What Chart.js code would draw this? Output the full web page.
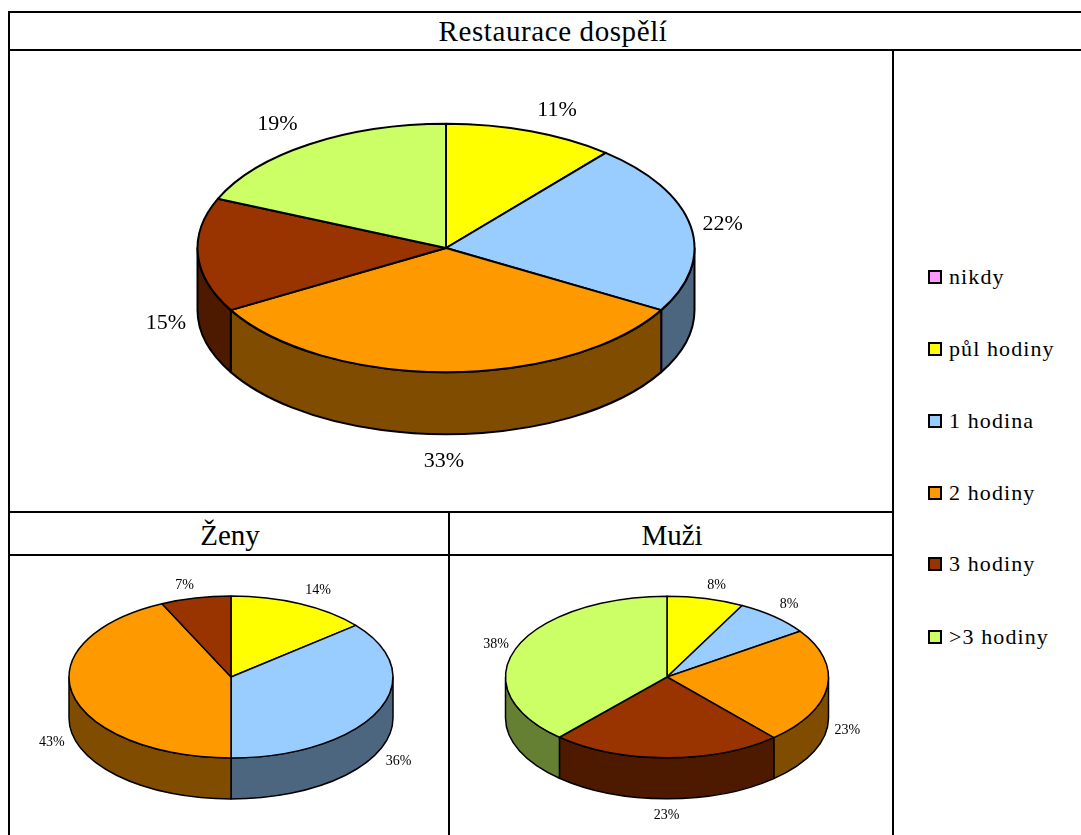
<!DOCTYPE html>
<html lang="cs">
<head>
<meta charset="utf-8">
<title>Restaurace dospělí</title>
<script src="https://cdn.jsdelivr.net/npm/chart.js@4"></script>
<style>
html,body{margin:0;padding:0;background:#fff;}
#page{position:relative;width:1081px;height:835px;overflow:hidden;font-family:"Liberation Serif",serif;color:#000;}
.h,.v{position:absolute;background:#000;}
.title{position:absolute;text-align:center;line-height:1;white-space:nowrap;}
canvas{position:absolute;pointer-events:none;}
.lg{position:absolute;left:928px;font-size:22px;line-height:24px;white-space:nowrap;}
.lg i{position:absolute;left:0;top:5px;width:10px;height:10px;border:2px solid #000;display:block;}
.lg span{position:absolute;left:21px;top:0;letter-spacing:1.1px;}
</style>
</head>
<body>
<div id="page">
  <div class="h" style="left:8px;top:11px;width:1073px;height:2px"></div>
  <div class="h" style="left:8px;top:49px;width:1073px;height:2px"></div>
  <div class="h" style="left:8px;top:511px;width:885px;height:2px"></div>
  <div class="h" style="left:8px;top:554px;width:885px;height:2px"></div>
  <div class="v" style="left:8px;top:11px;width:2px;height:824px"></div>
  <div class="v" style="left:448px;top:511px;width:2px;height:324px"></div>
  <div class="v" style="left:892px;top:49px;width:2px;height:786px"></div>
  <div class="title" style="left:10px;width:1086px;top:17px;font-size:29px;letter-spacing:.6px">Restaurace dospělí</div>
  <div class="title" style="left:10px;width:440px;top:521px;font-size:29px">Ženy</div>
  <div class="title" style="left:450px;width:444px;top:521px;font-size:29px">Muži</div>
</div>
<script>
const categories = ["nikdy", "půl hodiny", "1 hodina", "2 hodiny", "3 hodiny", ">3 hodiny"];
const colors     = ["#FF99FF", "#FFFF00", "#99CCFF", "#FF9900", "#993300", "#CCFF66"];
const sideColors = ["#804D80", "#808000", "#4D6680", "#804D00", "#4D1A00", "#668033"];

const restauraceValues = [0, 11.1, 22.2, 33.3, 14.8, 18.5];
const zenyValues       = [0, 14, 36, 43, 7, 0];
const muziValues       = [0, 7.7, 7.7, 23.1, 23.1, 38.4];

const legendRows = [277, 349, 421, 493, 564, 637];

const page = document.getElementById('page');
categories.forEach((c, i) => {
  const d = document.createElement('div');
  d.className = 'lg';
  d.style.top = (legendRows[i] - 12) + 'px';
  const sw = document.createElement('i');
  sw.style.background = colors[i];
  const t = document.createElement('span');
  t.textContent = c;
  d.append(sw, t);
  page.appendChild(d);
});

const pie3d = {
  id: 'pie3d',
  beforeDatasetsDraw(chart, args, o) {
    const ctx = chart.ctx;
    const ds = chart.data.datasets[0];
    const arcs = chart.getDatasetMeta(0).data;
    ctx.save();
    ctx.lineWidth = o.lineWidth;
    ctx.strokeStyle = '#000';
    ctx.lineJoin = 'round';
    // side walls
    arcs.forEach((a, i) => {
      if (!ds.data[i]) return;
      const s = Math.max(a.startAngle, 0), e = Math.min(a.endAngle, Math.PI);
      if (s >= e) return;
      const rx = a.outerRadius, ry = rx * o.squash;
      ctx.beginPath();
      ctx.ellipse(a.x, a.y, rx, ry, 0, s, e);
      ctx.lineTo(a.x + rx * Math.cos(e), a.y + ry * Math.sin(e) + o.depth);
      ctx.ellipse(a.x, a.y + o.depth, rx, ry, 0, e, s, true);
      ctx.closePath();
      ctx.fillStyle = sideColors[i];
      ctx.fill();
      ctx.stroke();
    });
    // top face
    arcs.forEach((a, i) => {
      if (!ds.data[i]) return;
      const rx = a.outerRadius, ry = rx * o.squash;
      ctx.beginPath();
      ctx.moveTo(a.x, a.y);
      ctx.ellipse(a.x, a.y, rx, ry, 0, a.startAngle, a.endAngle);
      ctx.closePath();
      ctx.fillStyle = colors[i];
      ctx.fill();
      ctx.stroke();
    });
    // percentage labels
    ctx.fillStyle = '#000';
    ctx.font = o.fontSize + 'px "Liberation Serif"';
    ctx.textAlign = 'center';
    ctx.textBaseline = 'middle';
    let n = 0;
    arcs.forEach((a, i) => {
      if (!ds.data[i]) return;
      const m = (a.startAngle + a.endAngle) / 2;
      const rx = a.outerRadius, ry = rx * o.squash;
      const front = Math.sin(m) > 0 ? o.depth : 0;
      const nudge = o.nudges[n++];
      ctx.fillText(Math.round(ds.data[i]) + '%',
        a.x + rx * Math.cos(m) + nudge[0],
        a.y + ry * Math.sin(m) + front + nudge[1]);
    });
    ctx.restore();
    return false;
  }
};

function makePie(values, cx, cy, radius, depth, size, lineWidth, fontSize, nudges) {
  const cv = document.createElement('canvas');
  cv.width = size; cv.height = size;
  cv.style.left = (cx - size / 2) + 'px';
  cv.style.top = (cy - size / 2) + 'px';
  page.appendChild(cv);
  new Chart(cv, {
    type: 'pie',
    data: { labels: categories, datasets: [{ data: values, backgroundColor: colors, borderWidth: 0 }] },
    options: {
      responsive: false,
      animation: false,
      layout: { padding: size / 2 - radius },
      plugins: {
        legend: { display: false },
        tooltip: { enabled: false },
        pie3d: { squash: 0.5, depth, lineWidth, fontSize, nudges }
      }
    },
    plugins: [pie3d]
  });
}

makePie(restauraceValues, 445.5, 247.5, 248.5, 62, 640, 2, 22,
  [[26, -21], [32, -2], [-2, 27], [-32, 6], [-32, -20]]);
makePie(zenyValues, 231, 677, 162, 41, 440, 1.5, 14,
  [[18, -13], [21, 9], [-21, 7], [-11, -13]]);
makePie(muziValues, 667, 677, 161.5, 41, 440, 1.5, 14,
  [[11, -13], [15, -12], [20, 2], [0, 17], [-20, -4]]);
</script>
</body>
</html>
